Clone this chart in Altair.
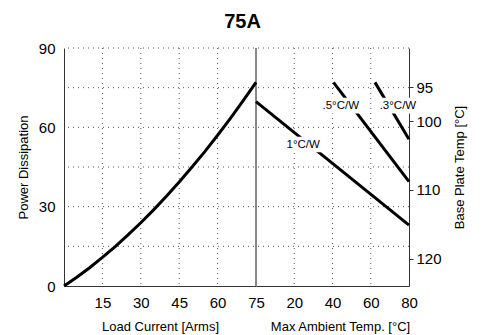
import altair as alt
import pandas as pd

# ---- data ----
current = [0, 5, 10, 15, 20, 25, 30, 35, 40, 45, 50, 55, 60, 65, 70, 75]
power_curve = [0, 3.3, 6.9, 10.8, 14.9, 19.3, 23.9, 28.8, 33.9, 39.3, 45.0, 50.8, 57.0, 63.4, 70.1, 77.0]

amb_series = ["1°C/W", "1°C/W", ".5°C/W", ".5°C/W", ".3°C/W", ".3°C/W"]
amb_temp = [0, 80, 40.5, 80, 62.2, 80]
amb_power = [69.7, 23.0, 77.0, 39.5, 77.0, 55.5]

label_text = ["1°C/W", ".5°C/W", ".3°C/W"]
label_temp = [24.7, 44.3, 74.2]
label_power = [53.5, 68.2, 68.2]

power_ticks = [0, 30, 60, 90]
power_grid = [15, 30, 45, 60, 75, 90]
current_ticks = [15, 30, 45, 60, 75]
current_grid = [15, 30, 45, 60]
amb_ticks = [20, 40, 60, 80]
amb_grid = [20, 40, 60]
base_ticks = [95, 100, 110, 120]
base_at_zero_power = 124.0
base_at_max_power = 89.3

# ---- layout ----
W, H, WL = 345, 238, 192
FONT = "Liberation Sans"

xc = alt.Scale(domain=[current[0], current[-1]], range=[0, WL], nice=False, zero=False)
xa = alt.Scale(domain=[0, 80], range=[WL, W], nice=False, zero=False)
yp = alt.Scale(domain=[0, 90], nice=False, zero=False)
yb = alt.Scale(domain=[base_at_zero_power, base_at_max_power], nice=False, zero=False)

df_curve = pd.DataFrame({"c": current, "p": power_curve})
df_amb = pd.DataFrame({"s": amb_series, "t": amb_temp, "p": amb_power})
df_lab = pd.DataFrame({"s": label_text, "t": label_temp, "p": label_power})
df_pgrid = pd.DataFrame({"p": power_grid})
df_cgrid = pd.DataFrame({"c": current_grid})
df_agrid = pd.DataFrame({"t": amb_grid})
df_div = pd.DataFrame({"c": [current[-1]]})
df_base = pd.DataFrame({"b": base_ticks})

grid_style = dict(color="#555555", strokeDash=[1, 4], strokeWidth=1)

hgrid = alt.Chart(df_pgrid).mark_rule(**grid_style).encode(
    y=alt.Y("p:Q", scale=yp, axis=None))
vgrid_c = alt.Chart(df_cgrid).mark_rule(**grid_style).encode(
    x=alt.X("c:Q", scale=xc, axis=None))
vgrid_a = alt.Chart(df_agrid).mark_rule(**grid_style).encode(
    x=alt.X("t:Q", scale=xa, axis=None))
divider = alt.Chart(df_div).mark_rule(color="#111111", strokeWidth=1).encode(
    x=alt.X("c:Q", scale=xc, axis=None))

curve = alt.Chart(df_curve).mark_line(color="black", strokeWidth=3).encode(
    x=alt.X("c:Q", scale=xc,
            axis=alt.Axis(orient="bottom", values=current_ticks, title="Load Current  [Arms]",
                          grid=False, ticks=False, labelFlush=False, labelPadding=9,
                          titlePadding=10, domainColor="#333333")),
    y=alt.Y("p:Q", scale=yp,
            axis=alt.Axis(orient="left", values=power_ticks, title="Power Dissipation",
                          grid=False, ticks=False, labelPadding=9, titlePadding=8,
                          domainColor="#333333")),
)

amb_lines = alt.Chart(df_amb).mark_line(color="black", strokeWidth=3, strokeCap="butt").encode(
    x=alt.X("t:Q", scale=xa,
            axis=alt.Axis(orient="bottom", values=amb_ticks, title="Max Ambient Temp. [°C]",
                          grid=False, ticks=False, labelFlush=False, labelPadding=9,
                          titlePadding=10, titleX=276, domainColor="#333333")),
    y=alt.Y("p:Q", scale=yp, axis=None),
    detail="s:N",
)

box_shape = "M-1,-0.4L1,-0.4L1,0.4L-1,0.4Z"
boxes = alt.Chart(df_lab).mark_point(shape=box_shape, filled=True, fill="white",
                                     strokeWidth=0, opacity=1, size=1521).encode(
    x=alt.X("t:Q", scale=xa, axis=None),
    y=alt.Y("p:Q", scale=yp, axis=None),
)
texts = alt.Chart(df_lab).mark_text(fontSize=11.5, color="black", font=FONT).encode(
    x=alt.X("t:Q", scale=xa, axis=None),
    y=alt.Y("p:Q", scale=yp, axis=None),
    text="s:N",
)

base_axis = alt.Chart(df_base).mark_point(opacity=0).encode(
    y=alt.Y("b:Q", scale=yb,
            axis=alt.Axis(orient="right", values=base_ticks, title="Base Plate Temp [°C]",
                          grid=False, ticks=True, tickSize=4, tickColor="#333333",
                          labelPadding=3, titlePadding=12, titleAngle=270,
                          titleBaseline="top", domainColor="#333333")),
)

chart = alt.layer(
    hgrid, vgrid_c, vgrid_a, divider, curve, amb_lines, boxes, texts, base_axis
).resolve_scale(
    x="independent", y="independent"
).properties(
    width=W, height=H,
    title=alt.TitleParams("75A", fontSize=20, fontWeight="bold", anchor="middle",
                          baseline="alphabetic", offset=14, dy=21, dx=6, font=FONT),
    autosize=alt.AutoSizeParams(type="none"),
    padding={"left": 64, "top": 48, "right": 73, "bottom": 49},
).configure(font=FONT).configure_axis(
    labelFont=FONT, titleFont=FONT, labelFontSize=15, titleFontSize=13,
    titleFontWeight="normal", labelColor="black", titleColor="black",
).configure_view(stroke=None)

chart.save("out.html", embed_options={"renderer": "svg", "actions": False})
